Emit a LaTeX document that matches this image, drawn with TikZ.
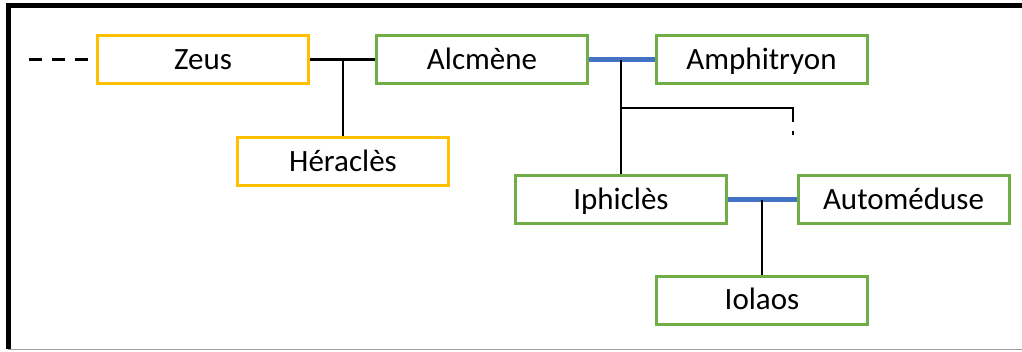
\documentclass[tikz,border=0pt]{standalone}
\usepackage{fontspec}
\setmainfont{Carlito}
\definecolor{gold}{HTML}{FFC000}
\definecolor{leaf}{HTML}{70AD47}
\definecolor{union}{HTML}{4472C4}
\begin{document}
\begin{tikzpicture}[x=1pt,y=-1pt,
  person/.style={draw,line width=3pt,minimum width=211pt,minimum height=48pt,inner sep=0pt,
    font=\fontsize{31}{36}\selectfont,text=black,fill=white,text height=23.25pt,text depth=3.3pt},
  godbox/.style={person,draw=gold},
  mortal/.style={person,draw=leaf},
  kin/.style={draw=black,line width=2.6pt},
  marriage/.style={draw=union,line width=4.6pt}]
\useasboundingbox (0,0) rectangle (1022,351);
\fill[white] (0,0) rectangle (1022,351);
% frame
\draw[line width=5pt,black] (6,5.5) -- (1022,5.5);
\draw[line width=5pt,black] (8.5,3) -- (8.5,349);
\draw[line width=1.5pt,black!38] (8,349.5) -- (1022,349.5);
% people
\node[godbox] (zeus) at (203,59.5) {Zeus};
\node[godbox] (heracles) at (343,161.5) {Héraclès};
\node[mortal] (alcmene) at (482,59.5) {Alcmène};
\node[mortal] (amphitryon) at (761.5,59.5) {Amphitryon};
\node[mortal] (iphicles) at (621,199.5) {Iphiclès};
\node[mortal] (automeduse) at (903.5,199.5) {Automéduse};
\node[mortal] (iolaos) at (762,300) {Iolaos};
% connectors
\coordinate (ancestry) at (29,59.5);
\draw[kin,dash pattern=on 13pt off 10pt] (ancestry) -- (zeus.west);
\draw[kin] (zeus.east) -- (alcmene.west);
\draw[kin] (heracles.north) -- (heracles.north |- zeus.east);
\draw[marriage] (alcmene.east) -- (amphitryon.west);
\draw[kin] (iphicles.north) -- (iphicles.north |- alcmene.east);
\coordinate (branch) at (621,108);
\coordinate (stub) at (793,108);
\draw[kin] (branch) -- (stub);
\draw[kin,dash pattern=on 15pt off 9pt on 4pt off 30pt] ([yshift=1.3pt]stub) -- ++(0,28);
\draw[marriage] (iphicles.east) -- (automeduse.west);
\draw[kin] (iolaos.north) -- (iolaos.north |- iphicles.east);
\end{tikzpicture}
\end{document}
